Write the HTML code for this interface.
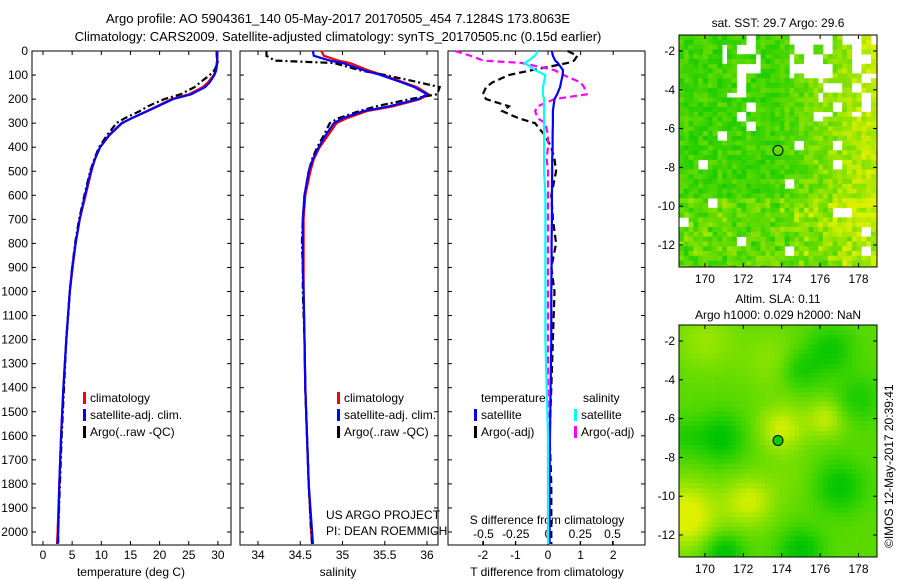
<!DOCTYPE html>
<html><head><meta charset="utf-8"><style>
body{margin:0;background:#fff;}
svg{display:block;font-family:"Liberation Sans",sans-serif;}
text{font-size:12px;fill:#000;}
</style></head><body>
<svg id="c" width="900" height="580" xmlns="http://www.w3.org/2000/svg">
<defs>
<clipPath id="m1"><rect x="679" y="35" width="198" height="232"/></clipPath>
<clipPath id="m2"><rect x="679" y="325" width="198" height="232"/></clipPath>
</defs>
<text x="338" y="23" text-anchor="middle" style="font-size:13px">Argo profile: AO 5904361_140 05-May-2017 20170505_454 7.1284S 173.8063E</text>
<text x="338" y="41" text-anchor="middle" style="font-size:13px">Climatology: CARS2009. Satellite-adjusted climatology: synTS_20170505.nc (0.15d earlier)</text>
<g id="g"></g>
</svg>
<script>
// ---- data ----
const depthTicks=[0,100,200,300,400,500,600,700,800,900,1000,1100,1200,1300,1400,1500,1600,1700,1800,1900,2000];
const tempTicks=[0,5,10,15,20,25,30];
const salTicks=[34,34.5,35,35.5,36];
const tdiffTicks=[-2,-1,0,1,2];
const sdiffTicks=[-0.5,-0.25,0,0.25,0.5];
const lonTicks=[170,172,174,176,178];
const latTicks=[-2,-4,-6,-8,-10,-12];

const depths=[0,20,40,50,80,100,130,150,180,200,230,250,280,300,350,400,450,500,600,700,800,900,1000,1200,1400,1600,1800,2000,2050];
const tempClim=[29.9,29.9,29.85,29.8,29.6,29.3,28.3,27.4,25.0,22.0,19.5,17.8,15.2,13.6,11.4,9.8,8.9,8.3,7.3,6.3,5.6,5.1,4.6,4.0,3.5,3.1,2.8,2.5,2.4];
const tempSat=[29.9,29.9,29.9,29.9,29.7,29.4,28.6,27.8,25.4,22.3,19.7,17.9,15.2,13.5,11.3,9.8,8.9,8.2,7.2,6.3,5.6,5.0,4.6,4.0,3.5,3.1,2.8,2.6,2.5];
const tempArgo=[29.8,29.8,29.9,30.0,29.4,28.6,27.0,26.0,23.6,20.8,18.0,16.6,14.0,12.6,11.0,9.6,8.8,8.1,7.1,6.2,5.5,5.0,4.6,4.0,3.6,3.2,2.9,2.6,2.6];
const salClim=[34.75,34.78,34.95,35.09,35.3,35.48,35.72,35.88,36.02,35.92,35.6,35.29,35.05,34.93,34.83,34.73,34.66,34.62,34.56,34.54,34.54,34.54,34.54,34.55,34.56,34.58,34.6,34.63,34.64];
const salSat=[34.65,34.66,34.85,35.0,35.25,35.45,35.7,35.85,36.0,35.9,35.55,35.25,35.0,34.9,34.8,34.72,34.65,34.6,34.55,34.53,34.53,34.53,34.54,34.55,34.56,34.58,34.6,34.64,34.65];
const salArgo=[34.1,34.1,34.2,34.9,35.2,35.5,35.9,36.15,36.12,35.8,35.4,35.2,34.95,34.85,34.78,34.7,34.64,34.6,34.55,34.53,34.52,34.53,34.53,34.55,34.56,34.58,34.6,34.63,34.64];
const tdiffSat=[0.12,0.15,0.22,0.3,0.46,0.45,0.4,0.37,0.28,0.2,0.17,0.15,0.15,0.15,0.14,0.14,0.13,0.13,0.12,0.12,0.11,0.11,0.1,0.1,0.08,0.06,0.05,0.05,0.05];
const tdiffArgo=[0.6,0.9,0.8,0.6,-0.5,-1.2,-1.7,-1.9,-2.0,-1.9,-1.2,-1.4,-0.9,-0.4,-0.1,0.1,0.2,0.25,0.1,0.15,0.25,0.1,0.2,0.15,0.1,0.05,0.1,0.1,0.1];
const sdiffSat=[-0.08,-0.1,-0.15,-0.18,-0.1,-0.02,-0.03,-0.04,-0.04,-0.03,-0.03,-0.03,-0.03,-0.03,-0.03,-0.03,-0.03,-0.03,-0.02,-0.02,-0.02,-0.02,-0.02,-0.02,-0.01,0,0,0,0];
const sdiffArgo=[-0.72,-0.6,-0.5,-0.2,0.05,0.12,0.25,0.28,0.3,0.05,-0.08,-0.1,-0.08,-0.02,0,0,-0.01,0,0,0,0,0,0,0,0,0,0,0,0];
const argoLon=173.8063, argoLat=-7.1284;
// SLA map blobs: lon, lat, amplitude, radius(deg)
const slaLon=[169,172.3,174,176.3,170,173.5,170.8,171,175,177,176.5,175,178,168.8,174.5];
const slaLat=[-11,-10.3,-6.5,-6,-2,-3,-7,-13,-12.8,-9.5,-2.5,-3.5,-5,-7,-9];
const slaAmp=[0.6,0.45,0.45,0.4,0.25,0.2,-0.5,-0.55,-0.5,-0.45,-0.4,-0.35,-0.3,-0.25,0.1];
const slaRad=[1.7,1.3,1.2,1.0,1.6,1.6,1.2,1.0,1.1,1.3,1.2,1.0,1.2,1.0,1.5];

// ---- layout ----
const NS="http://www.w3.org/2000/svg";
const G=document.getElementById('g');
function el(t,a,p){const e=document.createElementNS(NS,t);for(const k in a)e.setAttribute(k,a[k]);(p||G).appendChild(e);return e;}
function txt(x,y,s,anchor,p){const e=el('text',{x:x,y:y,'text-anchor':anchor||'start'},p);e.textContent=s;return e;}
const yD=d=>51+d*0.2405;
const xT=v=>43+v*5.83;
const xS=v=>258+(v-34)*84.5;
const xTd=v=>548+v*32.6;
const xSd=v=>548+v*129;
const TOP=51,BOT=545;
const panels=[[32,231],[240,438],[448,645]];

panels.forEach((p,i)=>{
  const r=el('rect',{x:p[0],y:TOP,width:p[1]-p[0],height:BOT-TOP,fill:'none',stroke:'#000'});
  
  
  depthTicks.forEach(d=>{
    el('line',{x1:p[0],x2:p[0]+4,y1:yD(d),y2:yD(d),stroke:'#000'});
    el('line',{x1:p[1],x2:p[1]-4,y1:yD(d),y2:yD(d),stroke:'#000'});
  });
});
depthTicks.forEach(d=>{
  const t=txt(28,yD(d)+4,String(d),'end');
  
  
});
function xticks(ticks,fx,labels,yLab,top){
  ticks.forEach((v,i)=>{
    const x=fx(v);
    el('line',{x1:x,x2:x,y1:BOT,y2:BOT-4,stroke:'#000'});
    if(top) el('line',{x1:x,x2:x,y1:TOP,y2:TOP+4,stroke:'#000'});
    const t=txt(x,yLab,labels?labels[i]:String(v),'middle');
    
    
  });
}
xticks(tempTicks,xT,null,559,true);
xticks(salTicks,xS,null,559,true);
xticks(tdiffTicks,xTd,null,559,true);
xticks(sdiffTicks,xSd,['-0.5','-0.25','0','0.25','0.5'],538,false);
[[131,'temperature (deg C)','x-axis-title-temperature'],[338,'salinity','x-axis-title-salinity'],[547,'T difference from climatology','x-axis-title-tdiff']].forEach(a=>{
  const t=txt(a[0],576,a[1],'middle');});
{const t=txt(547,524,'S difference from climatology','middle');}

function line(vals,fx,color,dash,name,w){
  const pts=vals.map((v,i)=>fx(v).toFixed(1)+','+yD(depths[i]).toFixed(1)).join(' ');
  const a={points:pts,fill:'none',stroke:color,'stroke-width':w||2.2};
  if(dash)a['stroke-dasharray']=dash;
  const e=el('polyline',a);
  
  
}
line(tempClim,xT,'#ff0000',null,'temp-climatology-line');
line(tempArgo,xT,'#000',"7,3,2,3",'temp-argo-line',2.2);
line(tempSat,xT,'#0000ff',null,'temp-satellite-line');
line(salClim,xS,'#ff0000',null,'sal-climatology-line');
line(salArgo,xS,'#000',"7,3,2,3",'sal-argo-line',2.2);
line(salSat,xS,'#0000ff',null,'sal-satellite-line');
line(tdiffArgo,xTd,'#000',"7,4",'tdiff-argo-line',2.2);
line(sdiffArgo,xSd,'#ff00ff',"7,4",'sdiff-argo-line',2.2);
line(tdiffSat,xTd,'#0000ff',null,'tdiff-satellite-line',2.2);
line(sdiffSat,xSd,'#00ffff',null,'sdiff-satellite-line',2.2);

function legend(x,y,items,name){
  const g=el('g',{});
  items.forEach((it,i)=>{
    if(it[0])el('rect',{x:x,y:y+i*17-10,width:3,height:12,fill:it[0]},g);
    txt(x+7,y+i*17,it[1],'start',g);
  });
}
legend(83,402,[['#ff0000','climatology'],['#0000ff','satellite-adj. clim.'],['#000','Argo(..raw -QC)']],'legend-temperature');
legend(337,402,[['#ff0000','climatology'],['#0000ff','satellite-adj. clim.'],['#000','Argo(..raw -QC)']],'legend-salinity');
legend(474,402,[[null,''],['#0000ff','satellite'],['#000','Argo(-adj)']],'legend-tdiff');
legend(574,402,[[null,''],['#00ffff','satellite'],['#ff00ff','Argo(-adj)']],'legend-sdiff');
txt(481,402,'temperature');txt(583,402,'salinity');
{const t=txt(326,519,'US ARGO PROJECT');
 const u=txt(326,535,'PI: DEAN ROEMMICH');}

// ---- maps ----
function hash(i,j,s){let h=(i*374761393+j*668265263+s*982451653)|0;h=(h^(h>>>13))*1274126177|0;return((h^(h>>>16))>>>0)/4294967296;}
function col(v){v=Math.max(0,Math.min(1,v));const r=Math.round(Math.pow(v,1.3)*220),g=Math.round(195+v*45);return 'rgb('+r+','+g+',0)';}
function map(top,bot,lat2,lat12,smooth,title1,title2,name,clip){
  const L=679,R=877;
  const xL=v=>L+(v-168.65)*19.2;
  const yL=v=>lat2+(-2-v)*(lat12-lat2)/10;
  const g=el('g',{});
  const cells=el('g',{'clip-path':'url(#'+clip+')'},g);
  const cw=4.8;
  for(let j=0;j*cw<bot-top;j++)for(let i=0;i*cw<R-L;i++){
    const x=L+i*cw,y=top+j*cw;
    const lon=168.65+(i+0.5)*cw/19.2, lat=-2-((y+cw/2)-lat2)/((lat12-lat2)/10);
    let v;
    if(smooth){
      v=0.5;
      for(let k=0;k<slaLon.length;k++){const d2=((lon-slaLon[k])**2+(lat-slaLat[k])**2)/(slaRad[k]**2);v+=slaAmp[k]*Math.exp(-d2);}
    }else{
      v=0.2+0.5*Math.max(0,(lon-173.5)/5)*(lat>-11?1:0.6)+0.35*hash(i,j,1);
      if(lat<-9.5)v+=0.3*hash(i,j,2);
      const w=hash(Math.floor(i/2),Math.floor(j/2),3);
      if((lat>-3.5&&lon>174.5&&w<0.5)||(lat>-5.5&&lon>176&&w<0.25)||(lat>-4.3&&lon>171&&lon<173&&w<0.3)||w<0.035){ continue; }
    }
    el('rect',{x:x.toFixed(1),y:y.toFixed(1),width:cw+0.3,height:cw+0.3,fill:col(v)},cells);
  }
  el('rect',{x:L,y:top,width:R-L,height:bot-top,fill:'none',stroke:'#000'},g);
  lonTicks.forEach(v=>{el('line',{x1:xL(v),x2:xL(v),y1:bot,y2:bot-4,stroke:'#000'},g);el('line',{x1:xL(v),x2:xL(v),y1:top,y2:top+4,stroke:'#000'},g);txt(xL(v),bot+16,String(v),'middle',g);});
  latTicks.forEach(v=>{el('line',{x1:L,x2:L+4,y1:yL(v),y2:yL(v),stroke:'#000'},g);el('line',{x1:R,x2:R-4,y1:yL(v),y2:yL(v),stroke:'#000'},g);txt(L-4,yL(v)+4,String(v),'end',g);});
  const c=el('circle',{cx:xL(argoLon),cy:yL(argoLat),r:5,fill:smooth?'#00cc00':'none',stroke:'#000'},g);
  
  
  if(title2){txt(778,top-22,title1,'middle',g);txt(778,top-6,title2,'middle',g);}else txt(778,top-8,title1,'middle',g);
}
map(35,267,51,245,false,'sat. SST: 29.7 Argo: 29.6',null,'sst-map','m1');
map(325,557,341,535,true,'Altim. SLA: 0.11','Argo h1000: 0.029 h2000: NaN','sla-map','m2');
{const t=el('text',{x:0,y:0,transform:'translate(893,548) rotate(-90)'});t.textContent='©IMOS 12-May-2017 20:39:41';
 }
</script>
</body></html>
